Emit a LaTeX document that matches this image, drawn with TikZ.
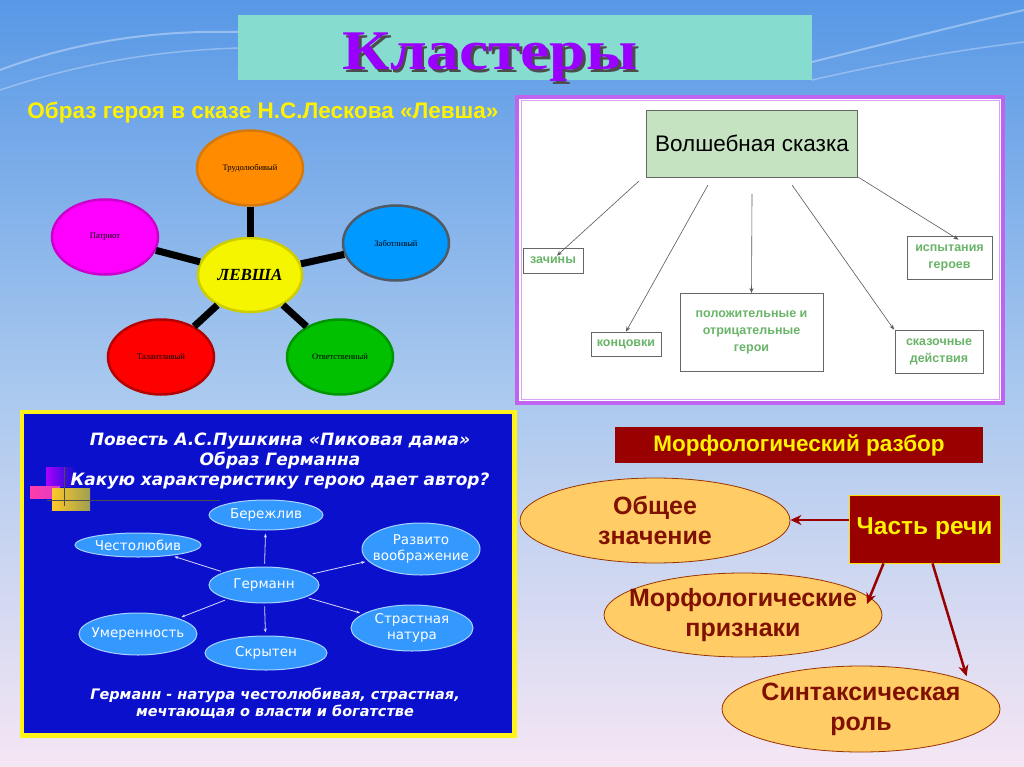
\documentclass[tikz,border=0pt]{standalone}
\usepackage{fontspec}
\setmainfont{Liberation Sans}
\newfontfamily\serifb{Liberation Serif}
\newfontfamily\dvs{DejaVu Sans}
\usetikzlibrary{shapes.geometric,arrows.meta}
\definecolor{bgtop}{RGB}{88,152,230}
\definecolor{bgmid}{RGB}{168,200,238}
\definecolor{bgbot}{RGB}{245,230,244}
\definecolor{teal}{RGB}{134,220,207}
\definecolor{ttlpurple}{RGB}{153,0,255}
\definecolor{bluebox}{RGB}{10,16,204}
\definecolor{ellblue}{RGB}{51,153,255}
\definecolor{ellbord}{RGB}{170,210,255}
\definecolor{dred}{RGB}{153,0,0}
\definecolor{txtred}{RGB}{128,16,0}
\definecolor{ellor}{RGB}{255,204,102}
\definecolor{ellbr}{RGB}{153,51,0}
\definecolor{lgreen}{RGB}{197,227,192}
\definecolor{gtext}{RGB}{105,180,105}
\definecolor{frame}{RGB}{190,100,240}
\tikzset{
  lev/.style={ellipse, minimum width=106, minimum height=75, line width=2.5, inner sep=0,
    font=\serifb\fontsize{8.5}{9}\selectfont},
  spoke/.style={line width=7, black},
  gbox/.style={draw=gray!80!black, line width=0.8, fill=white, align=center, inner sep=2,
    text=gtext, font=\bfseries\fontsize{12.5}{17}\selectfont},
  garrow/.style={draw=gray!70!black, line width=0.6, -{Stealth[length=5,width=4]}},
  bell/.style={ellipse, fill=ellblue, draw=ellbord, line width=1, inner sep=0,
    label={[align=center, text=white, font=\dvs\fontsize{13.5}{16}\selectfont]center:#1}},
  warrow/.style={draw=white!85!blue, line width=0.8, -{Stealth[length=4,width=3]}, shorten <=3, shorten >=3},
  oell/.style={ellipse, fill=ellor, draw=ellbr, line width=0.8, inner sep=0,
    label={[align=center, text=txtred, font=\bfseries\fontsize{25}{30}\selectfont]center:#1}},
  rarrow/.style={draw=dred, line width=2.5, -{Stealth[length=11,width=10]}},
}
\newcommand{\ttlword}{Кластеры}
\begin{document}
\begin{tikzpicture}[x=1pt,y=-1pt]
\useasboundingbox (0,0) rectangle (1024,767);
% background
\shade[top color=bgtop, bottom color=bgbot, middle color=bgmid] (0,0) rectangle (1024,767);
\draw[white, opacity=0.35, line width=2] (0,70) .. controls (80,40) and (160,30) .. (240,32);
\draw[white, opacity=0.3, line width=1.5] (0,90) .. controls (90,60) and (170,50) .. (240,48);
\draw[white, opacity=0.35, line width=2] (812,62) .. controls (900,40) and (960,25) .. (1024,10);
\draw[white, opacity=0.3, line width=1.5] (812,80) .. controls (900,60) and (960,50) .. (1024,42);
% title
\fill[teal] (238,15) rectangle (812,80);
\node[anchor=base, inner sep=0, font=\serifb\bfseries\fontsize{56}{60}\selectfont] (title) at (490,70)
  {\scalebox{1.17}[1]{\rlap{\kern2.5pt\raisebox{-2.5pt}{\textcolor{black!70}{\ttlword}}}\textcolor{ttlpurple}{\ttlword}}};
% subtitle
\node[anchor=base, inner sep=0, font=\bfseries\fontsize{22.5}{24}\selectfont, text=yellow] (sub) at (263,119) {Образ героя в сказе Н.С.Лескова «Левша»};
% Levsha cluster
\node[lev, fill={rgb,255:red,255;green,140;blue,0}, draw={rgb,255:red,214;green,120;blue,10}] (t) at (250,168) {Трудолюбивый};
\node[lev, fill={rgb,255:red,0;green,153;blue,255}, draw={rgb,255:red,80;green,90;blue,100}] (r) at (396,243) {Заботливый};
\node[lev, fill={rgb,255:red,255;green,0;blue,255}, draw={rgb,255:red,204;green,0;blue,204}] (l) at (105,237) {Патриот};
\node[lev, fill={rgb,255:red,255;green,0;blue,0}, draw={rgb,255:red,180;green,0;blue,0}] (bl) at (161,357) {Талантливый};
\node[lev, fill={rgb,255:red,0;green,192;blue,0}, draw={rgb,255:red,0;green,150;blue,0}] (br) at (340,357) {Ответственный};
\node[lev, minimum width=104, minimum height=74, fill={rgb,255:red,245;green,245;blue,0}, draw={rgb,255:red,205;green,205;blue,0},
  font=\serifb\bfseries\itshape\fontsize{17}{18}\selectfont] (c) at (250,275) {ЛЕВША};
\draw[spoke] (c) -- (t);
\draw[spoke] (c) -- (r);
\draw[spoke] (c) -- (l);
\draw[spoke] (c) -- (bl);
\draw[spoke] (c) -- (br);
% Fairy tale box
\fill[white] (517,97) rectangle (1003,403);
\draw[frame, line width=3.5] (517,97) rectangle (1003,403);
\draw[frame!60!white, line width=1] (521,101) rectangle (999,399);
\node[draw=gray!80!black, line width=0.8, fill=lgreen, minimum width=211, minimum height=67, inner sep=0,
  font=\fontsize{22.5}{24}\selectfont] (ws) at (752,143.5) {Волшебная сказка};
\node[gbox, minimum width=60, minimum height=25] (z) at (553,260.5) {зачины};
\node[gbox, minimum width=70, minimum height=24] (k) at (626,344) {концовки};
\node[gbox, minimum width=143, minimum height=78, anchor=north] (p) at (751.5,293) {положительные и\\отрицательные\\герои};
\node[gbox, minimum width=85, minimum height=43] (i) at (949.5,257.5) {испытания\\героев};
\node[gbox, minimum width=88, minimum height=43] (s) at (939,351.5) {сказочные\\действия};
\coordinate (a1) at (639,181); \coordinate (a2) at (708,185); \coordinate (a3) at (752,194);
\coordinate (a4) at (792,185); \coordinate (a5) at (858,177);
\draw[garrow] (a1) -- ([xshift=4,yshift=-8]z.north);
\draw[garrow] (a2) -- (k.north);
\draw[garrow] (a3) -- (p.north);
\draw[garrow] (a4) -- ([xshift=-45]s.north);
\draw[garrow] (a5) -- ([xshift=9,yshift=-4]i.north);
% Blue box
\fill[yellow!90!white] (20,410) rectangle (517,738);
\fill[bluebox] (24,414) rectangle (512,733);
% decor
\shade[left color={rgb,255:red,170;green,0;blue,255}, right color=bluebox] (46,467) rectangle (76,486);
\shade[left color={rgb,255:red,255;green,60;blue,170}, right color={rgb,255:red,220;green,60;blue,200}] (30,486) rectangle (60,498);
\shade[left color={rgb,255:red,255;green,200;blue,40}, right color=bluebox!40!yellow] (52,488) rectangle (90,510);
\draw[black!70, line width=0.8] (64,467) -- (64,506);
\draw[black!70, line width=0.8] (47,500) -- (220,500);
\node[font=\dvs\bfseries\itshape\fontsize{17}{20}\selectfont, text=white, align=center] (hd) at (280,461)
  {Повесть А.С.Пушкина «Пиковая дама»\\Образ Германна\\Какую характеристику герою дает автор?};
\node[bell=Бережлив, minimum width=114, minimum height=30] (ber) at (266,515) {};
\node[bell=Честолюбив, minimum width=126, minimum height=24] (chest) at (138,545) {};
\node[bell={Развито\\воображение}, minimum width=118, minimum height=52] (raz) at (421,549) {};
\node[bell=Германн, minimum width=110, minimum height=36] (ger) at (264,585) {};
\node[bell=Умеренность, minimum width=118, minimum height=42] (um) at (138,634) {};
\node[bell=Скрытен, minimum width=122, minimum height=34] (skr) at (266,653) {};
\node[bell={Страстная\\натура}, minimum width=122, minimum height=46] (str) at (412,628) {};
\draw[warrow] (ger) -- (ber);
\draw[warrow] (ger) -- (chest);
\draw[warrow] (ger) -- (raz);
\draw[warrow] (ger) -- (um);
\draw[warrow] (ger) -- (skr);
\draw[warrow] (ger) -- (str);
\node[font=\dvs\bfseries\itshape\fontsize{14.5}{17}\selectfont, text=white, align=center] (ft) at (275,703)
  {Германн - натура честолюбивая, страстная,\\мечтающая о власти и богатстве};
% Morphology
\node[fill=dred, minimum width=368, minimum height=36, inner sep=0, text=yellow,
  font=\bfseries\fontsize{22.5}{24}\selectfont] (mr) at (799,445) {Морфологический разбор};
\node[oell={Общее\\значение}, minimum width=270, minimum height=85] (ob) at (655,520.5) {};
\node[oell={Морфологические\\признаки}, minimum width=278, minimum height=84] (mp) at (743,615) {};
\node[oell={Синтаксическая\\роль}, minimum width=278, minimum height=86] (sr) at (861,709) {};
\node[fill=dred, draw=yellow!80!orange, line width=0.8, minimum width=151, minimum height=68, inner sep=0,
  text=yellow, font=\bfseries\fontsize{24.5}{26}\selectfont] (ch) at (924.5,529) {Часть речи};
\draw[rarrow] (ch.west |- 0,520) -- (ob.east |- 0,520);
\draw[rarrow] ([xshift=-41]ch.south) -- (867,604);
\draw[rarrow] ([xshift=8]ch.south) -- ([xshift=7,yshift=2]sr.north east);
\end{tikzpicture}
\end{document}
